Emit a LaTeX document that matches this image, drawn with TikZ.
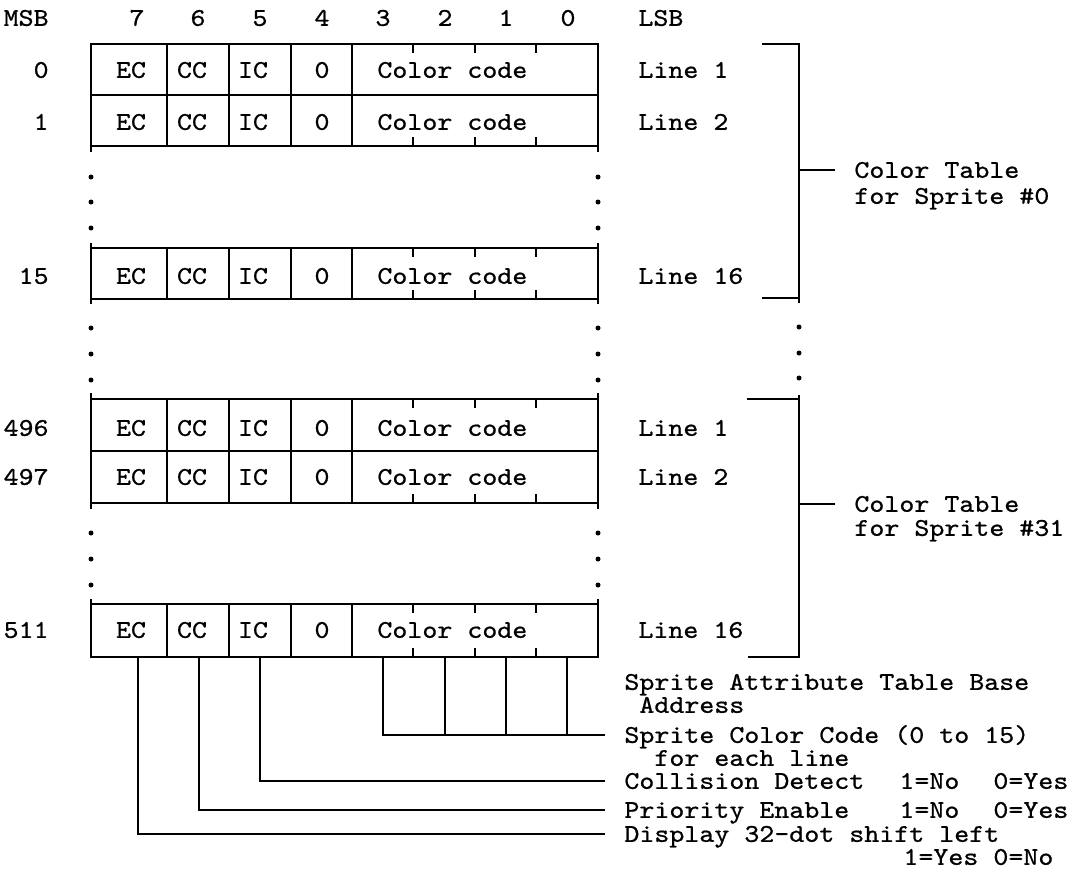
\documentclass[tikz,border=0pt]{standalone}
\usepackage{fontspec}
\usepackage{tikz}
\newfontfamily\typew{lmmono10-regular.otf}[FakeStretch=1.12, FakeBold=0.8]

\tikzset{
  tt/.style={font=\typew\fontsize{25.5}{28}\selectfont, inner sep=0pt, text height=15.6pt, text depth=0pt},
  cell/.style={tt, anchor=center},
  rowlab/.style={tt, anchor=east},
  lab/.style={tt, anchor=west}
}

\begin{document}
\begin{tikzpicture}[x=1pt,y=-1pt,line width=2.8pt]
\useasboundingbox (0,0) rectangle (1075,868);

% bit numbers
\node [rowlab] (msb) at (50,18)  {MSB};
\node [cell] (b7) at (137,18) {7};
\node [cell] (b6) at (198,18) {6};
\node [cell] (b5) at (260,18) {5};
\node [cell] (b4) at (322,18) {4};
\node [cell] (b3) at (383,18) {3};
\node [cell] (b2) at (445,18) {2};
\node [cell] (b1) at (506,18) {1};
\node [cell] (b0) at (568,18) {0};
\node [lab] (lsb) at (637,18) {LSB};

% row 0
\draw (91,44) rectangle (598,95);
\draw (167,44) -- (167,95) (229,44) -- (229,95) (291,44) -- (291,95) (352,44) -- (352,95);
\node [rowlab] (n0) at (50,70) {0};
\node [cell] (ec0) at (131,70) {EC};
\node [cell] (cc0) at (192,70) {CC};
\node [cell] (ic0) at (253,70) {IC};
\node [cell] (z0) at (322,70) {0};
\node [lab] (cd0) at (376,70) {Color code};
\node [lab] (ln0) at (637,70) {Line 1};
% row 1
\draw (91,95) rectangle (598,146);
\draw (167,95) -- (167,146) (229,95) -- (229,146) (291,95) -- (291,146) (352,95) -- (352,146);
\node [rowlab] (n1) at (50,122) {1};
\node [cell] (ec1) at (131,122) {EC};
\node [cell] (cc1) at (192,122) {CC};
\node [cell] (ic1) at (253,122) {IC};
\node [cell] (z1) at (322,122) {0};
\node [lab] (cd1) at (376,122) {Color code};
\node [lab] (ln1) at (637,122) {Line 2};
\draw (91,44) -- (91,152) (598,44) -- (598,152);
\draw (413,44) -- (413,53) (475,44) -- (475,53) (536,44) -- (536,53);
\draw (413,146) -- (413,137) (475,146) -- (475,137) (536,146) -- (536,137);
\fill (91,177) circle (2.5pt) (91,202) circle (2.5pt) (91,228) circle (2.5pt);
\fill (598,177) circle (2.5pt) (598,202) circle (2.5pt) (598,228) circle (2.5pt);

% row 15
\draw (91,248) rectangle (598,299);
\draw (167,248) -- (167,299) (229,248) -- (229,299) (291,248) -- (291,299) (352,248) -- (352,299);
\node [rowlab] (n15) at (50,276) {15};
\node [cell] (ec15) at (131,276) {EC};
\node [cell] (cc15) at (192,276) {CC};
\node [cell] (ic15) at (253,276) {IC};
\node [cell] (z15) at (322,276) {0};
\node [lab] (cd15) at (376,276) {Color code};
\node [lab] (ln15) at (637,276) {Line 16};
\draw (91,243) -- (91,304) (598,243) -- (598,304);
\draw (413,248) -- (413,257) (475,248) -- (475,257) (536,248) -- (536,257);
\draw (413,299) -- (413,290) (475,299) -- (475,290) (536,299) -- (536,290);
\fill (91,328) circle (2.5pt) (91,354) circle (2.5pt) (91,380) circle (2.5pt);
\fill (598,328) circle (2.5pt) (598,354) circle (2.5pt) (598,380) circle (2.5pt);

% row 496
\draw (91,399) rectangle (598,451);
\draw (167,399) -- (167,451) (229,399) -- (229,451) (291,399) -- (291,451) (352,399) -- (352,451);
\node [rowlab] (n496) at (50,428) {496};
\node [cell] (ec496) at (131,428) {EC};
\node [cell] (cc496) at (192,428) {CC};
\node [cell] (ic496) at (253,428) {IC};
\node [cell] (z496) at (322,428) {0};
\node [lab] (cd496) at (376,428) {Color code};
\node [lab] (ln496) at (637,428) {Line 1};
% row 497
\draw (91,451) rectangle (598,503);
\draw (167,451) -- (167,503) (229,451) -- (229,503) (291,451) -- (291,503) (352,451) -- (352,503);
\node [rowlab] (n497) at (50,477) {497};
\node [cell] (ec497) at (131,477) {EC};
\node [cell] (cc497) at (192,477) {CC};
\node [cell] (ic497) at (253,477) {IC};
\node [cell] (z497) at (322,477) {0};
\node [lab] (cd497) at (376,477) {Color code};
\node [lab] (ln497) at (637,477) {Line 2};
\draw (91,393) -- (91,509) (598,393) -- (598,509);
\draw (413,399) -- (413,408) (475,399) -- (475,408) (536,399) -- (536,408);
\draw (413,503) -- (413,494) (475,503) -- (475,494) (536,503) -- (536,494);
\fill (91,533) circle (2.5pt) (91,559) circle (2.5pt) (91,585) circle (2.5pt);
\fill (598,533) circle (2.5pt) (598,559) circle (2.5pt) (598,585) circle (2.5pt);

% row 511
\draw (91,604) rectangle (598,657);
\draw (167,604) -- (167,657) (229,604) -- (229,657) (291,604) -- (291,657) (352,604) -- (352,657);
\node [rowlab] (n511) at (50,630) {511};
\node [cell] (ec511) at (131,630) {EC};
\node [cell] (cc511) at (192,630) {CC};
\node [cell] (ic511) at (253,630) {IC};
\node [cell] (z511) at (322,630) {0};
\node [lab] (cd511) at (376,630) {Color code};
\node [lab] (ln511) at (637,630) {Line 16};
\draw (91,599) -- (91,657) (598,599) -- (598,657);
\draw (413,604) -- (413,613) (475,604) -- (475,613) (536,604) -- (536,613);
\draw (413,657) -- (413,648) (475,657) -- (475,648) (536,657) -- (536,648);

% brackets
\draw (762,44) -- (799,44) -- (799,303) (762,298) -- (799,298);
\coordinate (brk0) at (799,170);
\node [lab] (tab0) at (853,170) {Color Table};
\node [lab] (spr0) at (853,196) {for Sprite \#0};
\draw [shorten >=18pt] (brk0) -- (tab0.west);
\fill (799,327) circle (2.5pt) (799,353) circle (2.5pt) (799,378) circle (2.5pt);
\draw (799,395) -- (799,657) -- (748,657) (747,399) -- (799,399);
\coordinate (brk31) at (799,504);
\node [lab] (tab31) at (853,504) {Color Table};
\node [lab] (spr31) at (853,528) {for Sprite \#31};
\draw [shorten >=18pt] (brk31) -- (tab31.west);

% bit fields of the last line
\coordinate (ecb) at (138,657);
\coordinate (ccb) at (199,657);
\coordinate (icb) at (260,657);
\coordinate (bt3) at (383,657);
\coordinate (bt2) at (445,657);
\coordinate (bt1) at (506,657);
\coordinate (bt0) at (567,657);
\node [lab] (sat) at (623,682) {Sprite Attribute Table Base};
\node [lab] (adr) at (638,705) {Address};
\node [lab] (scc) at (623,735) {Sprite Color Code (0 to 15)};
\node [lab] (fel) at (653,758) {for each line};
\node [lab] (col) at (623,781) {Collision Detect};
\node [lab] (colN) at (898,781) {1=No};
\node [lab] (colY) at (992,781) {0=Yes};
\node [lab] (pri) at (623,810) {Priority Enable};
\node [lab] (priN) at (898,810) {1=No};
\node [lab] (priY) at (992,810) {0=Yes};
\node [lab] (dsp) at (623,834) {Display 32-dot shift left};
\node [lab] (dspY) at (902,857) {1=Yes};
\node [lab] (dspN) at (992,857) {0=No};
\draw [shorten >=18pt] (bt3) |- (scc.west);
\draw (bt2) -- (bt2 |- scc.west) (bt1) -- (bt1 |- scc.west) (bt0) -- (bt0 |- scc.west);
\draw [shorten >=18pt] (icb) |- (col.west);
\draw [shorten >=18pt] (ccb) |- (pri.west);
\draw [shorten >=18pt] (ecb) |- (dsp.west);
\end{tikzpicture}
\end{document}
